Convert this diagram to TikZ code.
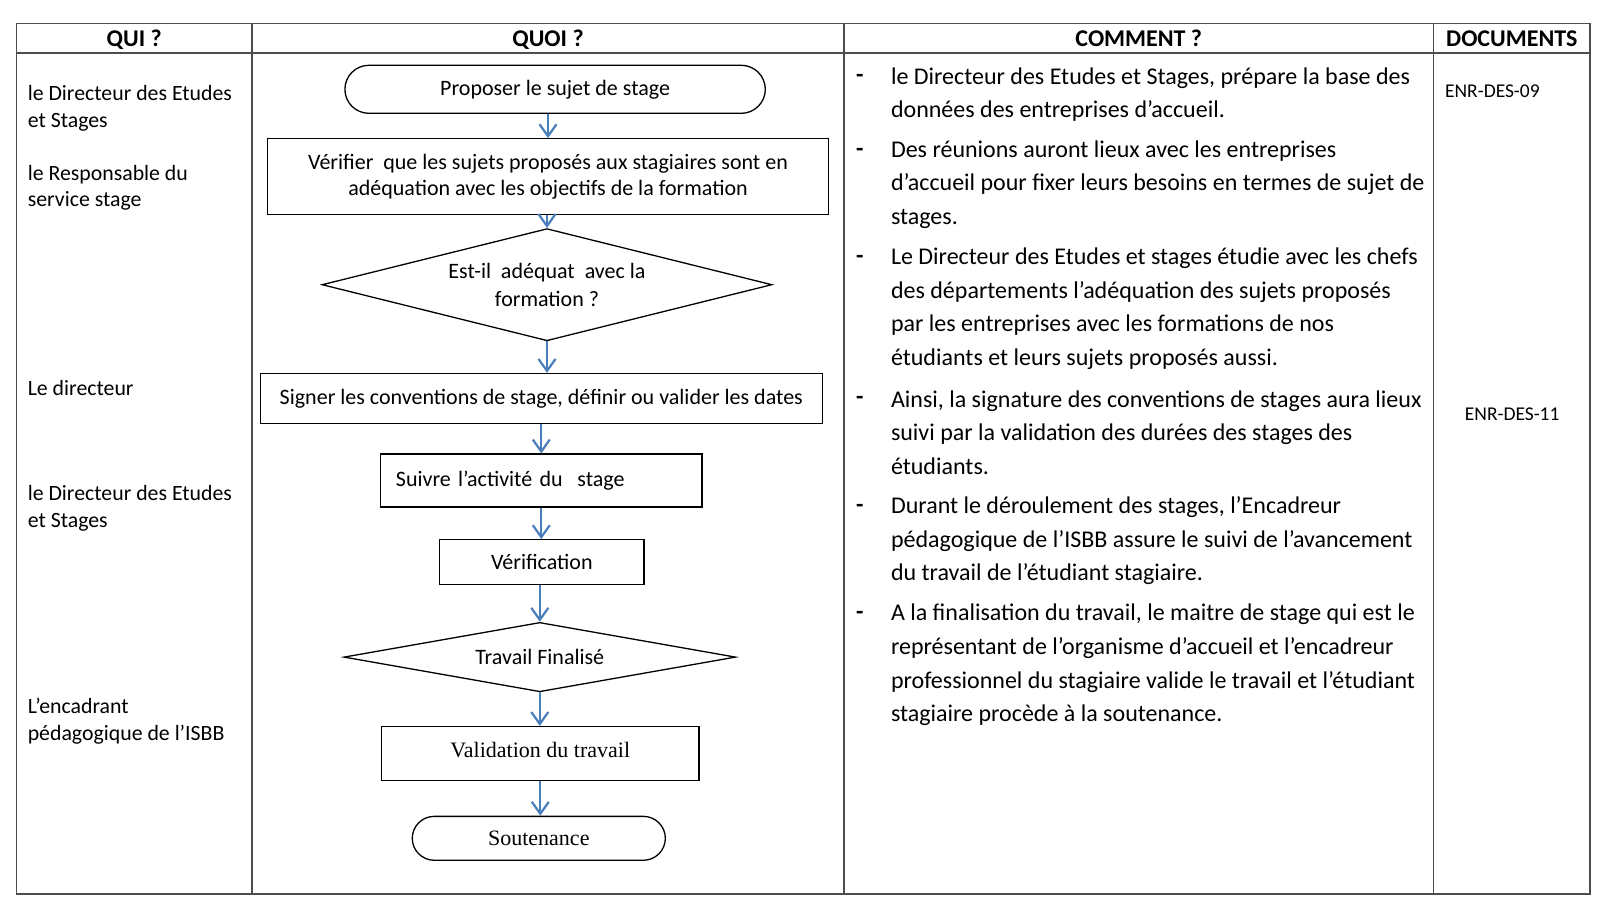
\documentclass[tikz,border=0pt]{standalone}
\usepackage{fontspec}
\setmainfont{Carlito}
\newfontfamily\timesfont{Liberation Serif}
\usetikzlibrary{shapes.geometric,arrows.meta}

\definecolor{flowblue}{HTML}{4A7EBB}
\definecolor{gridgray}{HTML}{4D4D4D}

\tikzset{
	grid line/.style={draw=gridgray, line width=1.5pt},
	head/.style={anchor=base, inner sep=0pt, font=\bfseries\fontsize{24}{28}\selectfont},
	qui/.style={anchor=west, align=left, inner sep=0pt, font=\fontsize{21.8}{26.5}\selectfont},
	box/.style={draw, line width=1.3pt, inner sep=0pt, align=center, font=\fontsize{22}{26.5}\selectfont},
	terminal/.style={box, rounded corners=#1},
	decision/.style={box, diamond},
	flow/.style={draw=flowblue, line width=2.2pt, -{Straight Barb[length=12pt,width=17pt,line width=2.2pt]}},
	tiret/.style={anchor=base west, inner sep=0pt, font=\bfseries\fontsize{24}{33.7}\selectfont},
	comment/.style={anchor=west, align=left, inner sep=0pt, font=\fontsize{24}{33.7}\selectfont},
	docref/.style={inner sep=0pt, font=\fontsize{19.5}{24}\selectfont}
}

\begin{document}
\begin{tikzpicture}[x=1pt, y=-1pt]
	\useasboundingbox (0,0) rectangle (1600,910);

	% tableau
	\draw [grid line] (16.3,23.5) rectangle (1589.8,893.9);
	\draw [grid line] (16.3,53.1) -- (1589.8,53.1);
	\draw [grid line] (252,23.5) -- (252,893.9);
	\draw [grid line] (843.9,23.5) -- (843.9,893.9);
	\draw [grid line] (1433.7,23.5) -- (1433.7,893.9);

	% en-tetes
	\node [head] (hqui) at (134.2,46.5) {QUI ?};
	\node [head] (hquoi) at (548,46.5) {QUOI ?};
	\node [head] (hcomment) at (1138.8,46.5) {COMMENT ?};
	\node [head] (hdocs) at (1511.8,46.5) {DOCUMENTS};

	% colonne QUI
	\node [qui] (qui1) at (27.6,108.2) {le Directeur des Etudes\\et Stages};
	\node [qui] (qui2) at (27.6,187.8) {le Responsable du\\service stage};
	\node [qui] (qui3) at (27.6,387.8) {Le directeur};
	\node [qui] (qui4) at (27.6,508.2) {le Directeur des Etudes\\et Stages};
	\node [qui] (qui5) at (27.6,721.4) {L’encadrant\\pédagogique de l’ISBB};

	% colonne QUOI : logigramme
	\node [terminal=24pt, minimum width=420.4pt, minimum height=48pt] (start) at (555.1,89.3) {Proposer le sujet de stage};
	\node [box, minimum width=561.3pt, minimum height=75.5pt] (verif) at (548,176.5) {Vérifier\ \ que les sujets proposés aux stagiaires sont en\\adéquation avec les objectifs de la formation};
	\node [decision, aspect=4, minimum width=450pt, minimum height=112.2pt, font=\fontsize{22}{27.5}\selectfont] (adequat) at (547,284.7) {Est-il\ \ adéquat\ \ avec la\\formation ?};
	\node [box, minimum width=562.2pt, minimum height=50pt] (signer) at (541.3,398.5) {Signer les conventions de stage, définir ou valider les dates};
	\node [box, align=left, inner xsep=15.3pt, text width=290.8pt, minimum height=53pt] (suivre) at (541.3,480.6) {Suivre l’activité du\ \ stage};
	\node [box, minimum width=204.1pt, minimum height=44.9pt] (verification) at (541.8,562.2) {Vérification};
	\node [decision, aspect=5.6, minimum width=391.8pt, minimum height=69.4pt] (finalise) at (539.8,657.1) {Travail Finalisé};
	\node [box, minimum width=317.4pt, minimum height=54.1pt, text depth=8pt, font=\timesfont\fontsize{22}{26}\selectfont] (validation) at (540.3,753.6) {Validation du travail};
	\node [terminal=22pt, minimum width=253.1pt, minimum height=43.9pt, font=\timesfont\fontsize{22}{26}\selectfont] (soutenance) at (538.8,838.3) {Soutenance};

	% fleches
	\draw [flow] (verif.north |- start.south) -- (verif.north);
	\draw [flow] (adequat.north |- verif.south) -- (adequat.north);
	\draw [flow] (adequat.south) -- (adequat.south |- signer.north);
	\draw [flow] (suivre.north |- signer.south) -- (suivre.north);
	\draw [flow] (suivre.south) -- (suivre.south |- verification.north);
	\draw [flow] (finalise.north |- verification.south) -- (finalise.north);
	\draw [flow] (finalise.south) -- (finalise.south |- validation.north);
	\draw [flow] (validation.south) -- (validation.south |- soutenance.north);

	% colonne COMMENT
	\node [tiret] (t1) at (856,82.6) {-};
	\node [comment] (c1) at (890.8,94.5) {le Directeur des Etudes et Stages, prépare la base des\\données des entreprises d’accueil.};
	\node [tiret] (t2) at (856,156.0) {-};
	\node [comment] (c2) at (890.8,184.7) {Des réunions auront lieux avec les entreprises\\d’accueil pour fixer leurs besoins en termes de sujet de\\stages.};
	\node [tiret] (t3) at (856,263.2) {-};
	\node [comment] (c3) at (890.8,308.8) {Le Directeur des Etudes et stages étudie avec les chefs\\des départements l’adéquation des sujets proposés\\par les entreprises avec les formations de nos\\étudiants et leurs sujets proposés aussi.};
	\node [tiret] (t4) at (856,404.0) {-};
	\node [comment] (c4) at (890.8,432.7) {Ainsi, la signature des conventions de stages aura lieux\\suivi par la validation des durées des stages des\\étudiants.};
	\node [tiret] (t5) at (856,512.1) {-};
	\node [comment] (c5) at (890.8,540.8) {Durant le déroulement des stages, l’Encadreur\\pédagogique de l’ISBB assure le suivi de l’avancement\\du travail de l’étudiant stagiaire.};
	\node [tiret] (t6) at (856,619.3) {-};
	\node [comment] (c6) at (890.8,664.9) {A la finalisation du travail, le maitre de stage qui est le\\représentant de l’organisme d’accueil et l’encadreur\\professionnel du stagiaire valide le travail et l’étudiant\\stagiaire procède à la soutenance.};

	% colonne DOCUMENTS
	\node [docref, anchor=west] (doc1) at (1444.9,90.8) {ENR-DES-09};
	\node [docref] (doc2) at (1512.2,414.3) {ENR-DES-11};
\end{tikzpicture}
\end{document}
